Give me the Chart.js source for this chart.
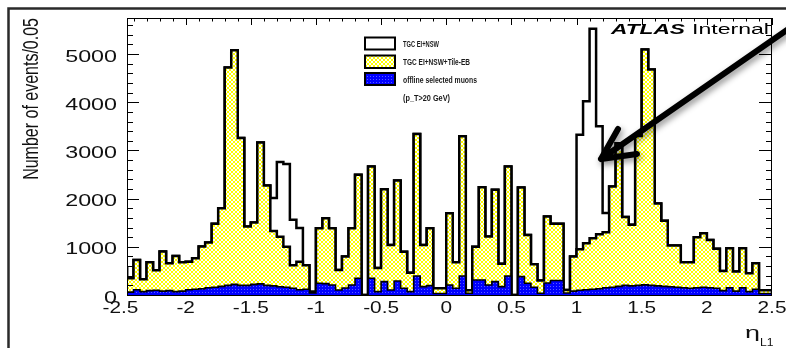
<!DOCTYPE html>
<html>
<head>
<meta charset="utf-8">
<script src="https://cdn.jsdelivr.net/npm/chart.js@4/dist/chart.umd.min.js"></script>
<style>
  html, body { margin: 0; padding: 0; background: #fff; }
  #wrap { width: 786px; height: 348px; }
</style>
</head>
<body>
<div id="wrap"><canvas id="c" width="786" height="348"></canvas></div>
<script>
// L1 muon candidates per eta bin (100 bins of 0.05 from -2.5 to 2.5)
const etaMin = -2.5;
const binWidth = 0.05;

const tgcEiNsw = [
  600, 576, 347, 728, 326, 680, 513, 901, 659, 811,
  680, 690, 763, 1005, 1088, 1477, 1803, 4725, 5080, 3260,
  1421, 1504, 3168, 2274, 2011, 2760, 2720, 1560, 1390, 620,
  70, 1387, 1595, 1387, 520, 797, 1387, 2496, 0, 2669,
  560, 2196, 1040, 2378, 900, 460, 3342, 1040, 1387, 139,
  139, 1699, 680, 3293, 100, 1000, 2235, 1213, 2184, 650,
  2669, 0, 2232, 1248, 640, 300, 1629, 1477, 1477, 104,
  800, 3328, 4021, 5526, 3501, 1700, 2250, 3150, 1620, 1456,
  3300, 5096, 4680, 1900, 1540, 1030, 1030, 680, 680, 1200,
  1283, 1140, 960, 500, 971, 490, 971, 450, 659, 100
];

const tgcEiNswTileEb = [
  600, 576, 347, 728, 326, 680, 513, 901, 659, 811,
  680, 690, 763, 1005, 1088, 1477, 1803, 4725, 5080, 3260,
  1421, 1504, 3168, 2274, 1330, 1210, 1000, 620, 690, 620,
  70, 1387, 1595, 1387, 520, 797, 1387, 2496, 0, 2669,
  560, 2196, 1040, 2378, 900, 460, 3342, 1040, 1387, 139,
  139, 1699, 680, 3293, 100, 1000, 2235, 1213, 2184, 650,
  2669, 0, 2232, 1248, 640, 300, 1629, 1477, 1477, 104,
  800, 950, 1075, 1180, 1260, 1300, 2250, 3150, 1620, 1456,
  3300, 5096, 4680, 1900, 1540, 1030, 1030, 680, 680, 1200,
  1283, 1140, 960, 500, 971, 490, 971, 450, 659, 100
];

const offlineMuons = [
  60, 80, 60, 110, 70, 90, 100, 80, 90, 70,
  80, 110, 120, 130, 150, 160, 180, 200, 220, 200,
  200, 220, 230, 200, 190, 170, 160, 140, 110, 120,
  40, 243, 236, 208, 104, 146, 208, 347, 0, 347,
  70, 278, 104, 292, 139, 70, 395, 173, 194, 30,
  30, 208, 139, 395, 35, 312, 312, 208, 278, 173,
  395, 0, 381, 243, 160, 35, 250, 300, 300, 40,
  80, 100, 110, 120, 130, 150, 160, 180, 200, 190,
  200, 210, 200, 190, 180, 170, 160, 150, 140, 150,
  160, 150, 140, 90, 150, 80, 150, 70, 120, 30
];

const xTickLabels = ['-2.5', '-2', '-1.5', '-1', '-0.5', '0', '0.5', '1', '1.5', '2', '2.5'];
const yTickLabels = ['0', '1000', '2000', '3000', '4000', '5000'];
const legendLabels = ['TGC EI+NSW', 'TGC EI+NSW+Tile-EB', 'offline selected muons', '(p_T>20 GeV)'];
const yTitle = 'Number of events/0.05';

const canvas = document.getElementById('c');
const ctx = canvas.getContext('2d');

// Step outline of a histogram: baseline, each bin's left edge, closing right edge
function histPoints(values) {
  const n = values.length;
  const pts = [{ x: etaMin, y: 0 }];
  values.forEach((v, i) => pts.push({ x: etaMin + i * binWidth, y: v }));
  pts.push({ x: etaMin + n * binWidth, y: values[n - 1] });
  pts.push({ x: etaMin + n * binWidth, y: 0 });
  return pts;
}

function makePattern(size, paint) {
  const tile = document.createElement('canvas');
  tile.width = tile.height = size;
  paint(tile.getContext('2d'));
  return ctx.createPattern(tile, 'repeat');
}

// Yellow cross-hatch
const yellowHatch = makePattern(4, t => {
  t.fillStyle = '#ffffff';
  t.fillRect(0, 0, 4, 4);
  t.fillStyle = '#ffff00';
  for (let i = 0; i < 4; i++) {
    t.fillRect(i, i, 1, 1);
    t.fillRect(3 - i, i, 1, 1);
  }
});

// Dense blue dots
const blueDots = makePattern(3, t => {
  t.fillStyle = '#0000ff';
  t.fillRect(0, 0, 3, 3);
  t.fillStyle = '#5a5aff';
  t.fillRect(1, 1, 1, 1);
});

const FONT = '"Liberation Sans", Arial, Helvetica, sans-serif';

function drawText(g, str, x, y, font, opt) {
  g.save();
  g.font = font;
  const w = g.measureText(str).width;
  let sx = opt.sx || 1;
  if (opt.width) sx = opt.width / w;
  g.translate(x, y);
  g.scale(sx, 1);
  g.textAlign = opt.align || 'left';
  g.textBaseline = 'alphabetic';
  g.fillStyle = opt.color || '#111';
  g.fillText(str, 0, 0);
  g.restore();
}

const decor = {
  id: 'decor',
  beforeDraw(chart) {
    const g = chart.ctx;
    g.save();
    g.fillStyle = '#ffffff';
    g.fillRect(0, 0, chart.width, chart.height);
    g.restore();
  },
  afterDraw(chart) {
    const g = chart.ctx;
    const a = chart.chartArea;
    const xs = chart.scales.x;
    const ys = chart.scales.y;

    // frame
    g.save();
    g.strokeStyle = '#000';
    g.lineWidth = 1;
    g.strokeRect(a.left + 0.5, a.top + 0.5, a.right - a.left - 1, a.bottom - a.top);

    // top axis ticks
    g.beginPath();
    for (let i = -25; i <= 25; i++) {
      const v = i / 10;
      if (v < xs.min - 1e-9 || v > xs.max + 1e-9) continue;
      const px = Math.round(xs.getPixelForValue(v)) + 0.5;
      const len = (i % 5 === 0) ? 7 : 3.5;
      g.moveTo(px, a.top);
      g.lineTo(px, a.top + len);
    }
    // left and right axis ticks
    for (let v = 0; v <= ys.max; v += 200) {
      const py = Math.round(ys.getPixelForValue(v)) + 0.5;
      const major = v % 1000 === 0;
      g.moveTo(a.left, py);
      g.lineTo(a.left + (major ? 12 : 6), py);
      g.moveTo(a.right, py);
      g.lineTo(a.right - (major ? 13 : 6), py);
    }
    g.stroke();
    g.restore();

    // tick labels
    yTickLabels.forEach(s => {
      const py = ys.getPixelForValue(Number(s));
      drawText(g, s, 117, py + 7.6, '17px ' + FONT, { sx: 1.37, align: 'right' });
    });
    xTickLabels.forEach(s => {
      const px = xs.getPixelForValue(Number(s));
      drawText(g, s, px, 313, '16px ' + FONT, { sx: 1.3, align: 'center' });
    });

    // y axis title
    g.save();
    g.translate(37.5, 18);
    g.rotate(-Math.PI / 2);
    g.scale(1, 1.38);
    g.font = '16px ' + FONT;
    g.fillStyle = '#111';
    g.textAlign = 'right';
    g.textBaseline = 'alphabetic';
    g.fillText(yTitle, 0, 0);
    g.restore();

    // x axis title: eta with L1 subscript
    drawText(g, 'η', 745, 338, '16px ' + FONT, { width: 15 });
    drawText(g, 'L1', 760, 345.5, '11px ' + FONT, { width: 13.5 });

    // legend
    const boxes = [
      { y: 37.5, h: 12, fill: '#ffffff' },
      { y: 55.5, h: 12.5, fill: yellowHatch },
      { y: 73, h: 12, fill: blueDots }
    ];
    g.save();
    boxes.forEach(b => {
      g.fillStyle = b.fill;
      g.fillRect(365, b.y, 30, b.h);
      g.strokeStyle = '#000';
      g.lineWidth = 2;
      g.strokeRect(365, b.y, 30, b.h);
    });
    g.restore();
    const rowBase = [46.8, 65.1, 83.1, 101.1];
    const rowWidth = [36, 67, 74, 47];
    legendLabels.forEach((s, i) => {
      drawText(g, s, 403, rowBase[i], 'bold 8.2px ' + FONT, { width: rowWidth[i], color: '#1a1a1a' });
    });

    // experiment label
    drawText(g, 'ATLAS', 611, 33.5, 'italic bold 14px ' + FONT, { width: 74, color: '#000' });
    drawText(g, 'Internal', 692, 33.5, '14px ' + FONT, { width: 77, color: '#000' });

    // redraw the ticks crossing the label so they stay on top
    g.save();
    g.strokeStyle = '#000';
    g.lineWidth = 1;
    g.beginPath();
    for (let v = 5200; v <= ys.max; v += 200) {
      const py = Math.round(ys.getPixelForValue(v)) + 0.5;
      g.moveTo(a.right, py);
      g.lineTo(a.right - 6, py);
    }
    g.moveTo(a.right - 0.5, a.top);
    g.lineTo(a.right - 0.5, a.top + 30);
    g.stroke();
    g.restore();

    // annotation arrow
    g.save();
    g.shadowColor = 'rgba(0,0,0,0.45)';
    g.shadowBlur = 6;
    g.shadowOffsetX = 2;
    g.shadowOffsetY = 3;
    g.strokeStyle = '#000';
    g.lineWidth = 6;
    g.lineCap = 'round';
    g.lineJoin = 'round';
    g.beginPath();
    g.moveTo(800, 21);
    g.lineTo(601, 159);
    g.moveTo(618, 129);
    g.lineTo(601, 159);
    g.lineTo(637, 154);
    g.stroke();
    g.restore();

    // outer border
    g.save();
    g.strokeStyle = '#2a2a2a';
    g.lineWidth = 2.5;
    g.beginPath();
    g.moveTo(8.5, 348);
    g.lineTo(8.5, 8.5);
    g.lineTo(786, 8.5);
    g.stroke();
    g.restore();
  }
};

const common = {
  stepped: 'after',
  fill: 'origin',
  pointRadius: 0,
  borderColor: '#000000',
  borderJoinStyle: 'miter',
  borderCapStyle: 'butt',
  clip: 0
};

new Chart(ctx, {
  type: 'line',
  data: {
    datasets: [
      Object.assign({}, common, {
        label: legendLabels[0],
        data: histPoints(tgcEiNsw),
        backgroundColor: '#ffffff',
        borderWidth: 2.5,
        order: 3
      }),
      Object.assign({}, common, {
        label: legendLabels[1],
        data: histPoints(tgcEiNswTileEb),
        backgroundColor: yellowHatch,
        borderWidth: 2.5,
        order: 2
      }),
      Object.assign({}, common, {
        label: legendLabels[2],
        data: histPoints(offlineMuons),
        backgroundColor: blueDots,
        borderWidth: 1.6,
        order: 1
      })
    ]
  },
  options: {
    responsive: false,
    animation: false,
    events: [],
    layout: { padding: { left: 127, right: 14, top: 18, bottom: 53 } },
    scales: {
      x: { type: 'linear', min: -2.45, max: 2.5, display: false },
      y: { type: 'linear', min: 0, max: 5750, display: false }
    },
    plugins: {
      legend: { display: false },
      tooltip: { enabled: false }
    }
  },
  plugins: [decor]
});
</script>
</body>
</html>
